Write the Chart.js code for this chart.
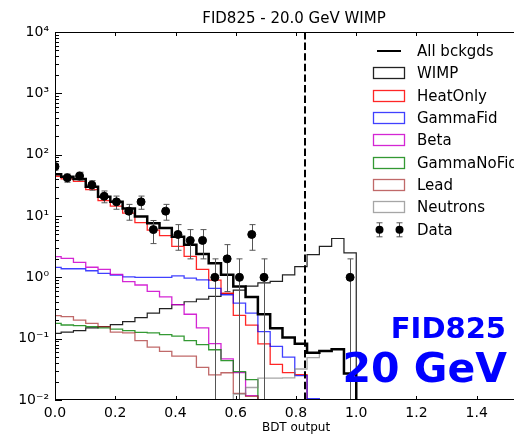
<!DOCTYPE html>
<html>
<head>
<meta charset="utf-8">
<script src="https://cdn.jsdelivr.net/npm/chart.js@4.4.0/dist/chart.umd.min.js"></script>
<style>
    html, body { margin: 0; padding: 0; overflow: hidden; background: #fff; }
    #wrap { width: 560px; height: 436px; }
</style>
</head>
<body>
<div id="wrap"><canvas id="bdtChart" width="560" height="436"></canvas></div>
<script>
// BDT output binning: 49 bins from -1 to 1, bin k centred on k * binWidth
const binWidth = 2 / 49;
const firstEdge = -1 / 49;
const cutValue = 0.83;

// histogram contents per bin (k = 0, 1, 2, ...)
const allBkg     = [48, 43.7, 40, 30, 20.6, 17, 13.3, 9.8, 7.6, 6.4, 4.6, 3.4, 2.4, 1.7, 1.1, 0.71, 0.48, 0.25, 0.148, 0.104, 0.083, 0.059, 0.063, 0.067, 0.027];
const wimp       = [0.122, 0.128, 0.135, 0.15, 0.157, 0.17, 0.19, 0.22, 0.26, 0.31, 0.36, 0.40, 0.44, 0.49, 0.54, 0.62, 0.72, 0.81, 0.86, 1.1, 1.5, 2.35, 3.2, 4.3, 2.5];
const heatOnly   = [44.5, 40.2, 36.6, 27, 17.8, 14.5, 11.1, 7.8, 5.9, 4.8, 3.2, 2.2, 1.35, 0.9, 0.55, 0.24, 0.166, 0.082, 0.038, 0.028, 0.026];
const gammaFid   = [1.45, 1.38, 1.38, 1.28, 1.16, 1.09, 1.02, 1.0, 1.0, 1.0, 1.06, 0.97, 0.91, 0.66, 0.52, 0.38, 0.26, 0.13, 0.075, 0.05, 0.025, 0.0105];
const beta       = [2.17, 2.04, 1.76, 1.46, 1.35, 1.12, 0.85, 0.75, 0.59, 0.48, 0.36, 0.25, 0.15, 0.083, 0.047, 0.028, 0.0118];
const gammaNoFid = [0.178, 0.167, 0.163, 0.157, 0.15, 0.143, 0.135, 0.127, 0.124, 0.116, 0.11, 0.093, 0.08, 0.066, 0.044, 0.029, 0.0215];
const lead       = [0.237, 0.228, 0.20, 0.178, 0.157, 0.128, 0.124, 0.093, 0.073, 0.062, 0.052, 0.052, 0.034, 0.0256, 0.0278, 0.0128, 0.0115];
const neutrons   = [0, 0, 0, 0, 0, 0, 0, 0, 0, 0, 0, 0, 0, 0, 0, 0.0125, 0.016, 0.0227, 0.0227, 0.023, 0.032, 0.049, 0.063, 0.067, 0.027];
const dataCounts = [64, 42, 45, 32, 21, 17, 12, 17, 6, 12, 5, 4, 4, 1, 2, 1, 5, 1, 0, 0, 0, 0, 0, 0, 1];

const xTicks = [0, 0.2, 0.4, 0.6, 0.8, 1.0, 1.2, 1.4, 1.6];
const yDecades = [-2, -1, 0, 1, 2, 3, 4];

const FONT = "'DejaVu Sans', sans-serif";
const floorVal = 1e-3; // empty bins fall below the axis

function stepPoints(vals) {
    const pts = [];
    vals.forEach((v, k) => {
        const lo = firstEdge + k * binWidth;
        const y = v > 0 ? v : floorVal;
        pts.push({ x: lo, y: y }, { x: lo + binWidth, y: y });
    });
    pts.push({ x: firstEdge + vals.length * binWidth, y: floorVal });
    return pts;
}

function histSet(label, vals, color, width, order) {
    return {
        type: 'line', label: label, data: stepPoints(vals),
        borderColor: color, borderWidth: width, pointRadius: 0,
        tension: 0, fill: false, order: order
    };
}

const dataPoints = [];
dataCounts.forEach((n, k) => {
    if (n > 0) dataPoints.push({ x: k * binWidth, y: n, err: Math.sqrt(n) });
});

const legendItems = [
    { label: 'All bckgds', kind: 'line', color: '#000' },
    { label: 'WIMP', kind: 'box', color: '#222' },
    { label: 'HeatOnly', kind: 'box', color: 'rgba(255,0,0,0.85)' },
    { label: 'GammaFid', kind: 'box', color: 'rgba(0,0,255,0.75)' },
    { label: 'Beta', kind: 'box', color: 'rgba(204,0,204,0.85)' },
    { label: 'GammaNoFid', kind: 'box', color: 'rgba(0,128,0,0.8)' },
    { label: 'Lead', kind: 'box', color: 'rgba(165,42,42,0.7)' },
    { label: 'Neutrons', kind: 'box', color: 'rgba(128,128,128,0.7)' },
    { label: 'Data', kind: 'data', color: '#000' }
];

const decor = {
    id: 'decor',
    beforeDatasetDraw(chart, args) {
        if (args.meta.type !== 'scatter') return;
        const ctx = chart.ctx, a = chart.chartArea;
        const xs = chart.scales.x, ys = chart.scales.y;
        ctx.save();
        ctx.beginPath();
        ctx.rect(a.left, a.top, a.right - a.left, a.bottom - a.top);
        ctx.clip();
        ctx.strokeStyle = '#555';
        ctx.lineWidth = 1;
        dataPoints.forEach(p => {
            const px = Math.round(xs.getPixelForValue(p.x)) + 0.5;
            const yHi = ys.getPixelForValue(p.y + p.err);
            const lowVal = p.y - p.err;
            const yLo = lowVal > 0 ? ys.getPixelForValue(lowVal) : a.bottom + 2;
            ctx.beginPath();
            ctx.moveTo(px, yHi); ctx.lineTo(px, yLo);
            ctx.moveTo(px - 3, yHi); ctx.lineTo(px + 3, yHi);
            if (lowVal > 0) { ctx.moveTo(px - 3, yLo); ctx.lineTo(px + 3, yLo); }
            ctx.stroke();
        });
        ctx.restore();
    },
    afterDatasetsDraw(chart) {
        const ctx = chart.ctx, a = chart.chartArea;
        const xs = chart.scales.x, ys = chart.scales.y;
        // cut line
        const cx = Math.round(xs.getPixelForValue(cutValue));
        ctx.save();
        ctx.strokeStyle = '#000';
        ctx.lineWidth = 2;
        ctx.setLineDash([7.4, 3.2]);
        ctx.beginPath();
        ctx.moveTo(cx, a.top); ctx.lineTo(cx, a.bottom);
        ctx.stroke();
        ctx.restore();

        // frame and inward ticks
        ctx.save();
        ctx.strokeStyle = '#000';
        ctx.lineWidth = 1;
        ctx.beginPath();
        ctx.moveTo(a.left + 0.5, a.top + 0.5); ctx.lineTo(a.right, a.top + 0.5);
        ctx.moveTo(a.left + 0.5, a.top); ctx.lineTo(a.left + 0.5, a.bottom);
        ctx.moveTo(a.left, a.bottom - 0.5); ctx.lineTo(a.right, a.bottom - 0.5);
        xTicks.forEach(v => {
            const px = Math.round(xs.getPixelForValue(v)) + 0.5;
            ctx.moveTo(px, a.bottom); ctx.lineTo(px, a.bottom - 4);
            ctx.moveTo(px, a.top); ctx.lineTo(px, a.top + 4);
        });
        yDecades.forEach(e => {
            for (let m = 1; m <= 9; m++) {
                if (e === 4 && m > 1) break;
                const py = Math.round(ys.getPixelForValue(m * Math.pow(10, e))) + 0.5;
                ctx.moveTo(a.left, py); ctx.lineTo(a.left + (m === 1 ? 7 : 4), py);
            }
        });
        ctx.stroke();
        ctx.restore();
    },
    afterDraw(chart) {
        const ctx = chart.ctx;
        ctx.save();
        ctx.fillStyle = '#000';
        ctx.textBaseline = 'middle';
        ctx.textAlign = 'center';
        ctx.font = '15px ' + FONT;
        ctx.fillText('FID825 - 20.0 GeV WIMP', 294, 19);
        ctx.font = '12px ' + FONT;
        ctx.fillText('BDT output', 296, 428);

        // legend
        ctx.textAlign = 'left';
        ctx.font = '15px ' + FONT;
        legendItems.forEach((it, i) => {
            const y = 51 + i * 22.35;
            if (it.kind === 'line') {
                ctx.strokeStyle = it.color; ctx.lineWidth = 2;
                ctx.beginPath(); ctx.moveTo(377, y); ctx.lineTo(401, y); ctx.stroke();
            } else if (it.kind === 'box') {
                ctx.strokeStyle = it.color; ctx.lineWidth = 1.3;
                ctx.strokeRect(373.5, Math.round(y) - 5.5, 31, 11);
            } else {
                [379, 399].forEach(mx => {
                    ctx.strokeStyle = '#555'; ctx.lineWidth = 1;
                    ctx.beginPath();
                    ctx.moveTo(mx + 0.5, y - 7); ctx.lineTo(mx + 0.5, y + 7);
                    ctx.moveTo(mx - 2.5, y - 7); ctx.lineTo(mx + 3.5, y - 7);
                    ctx.moveTo(mx - 2.5, y + 7); ctx.lineTo(mx + 3.5, y + 7);
                    ctx.stroke();
                    ctx.fillStyle = '#000';
                    ctx.beginPath(); ctx.arc(mx + 0.5, y, 4, 0, Math.PI * 2); ctx.fill();
                });
            }
            ctx.fillStyle = '#000';
            ctx.fillText(it.label, 417, y + 1);
        });

        // annotation
        ctx.fillStyle = '#0000ff';
        ctx.textAlign = 'right';
        ctx.textBaseline = 'alphabetic';
        ctx.font = 'bold 29px ' + FONT;
        ctx.fillText('FID825', 506, 338);
        ctx.font = 'bold 41px ' + FONT;
        ctx.fillText('20 GeV', 507, 382);
        ctx.restore();
    }
};

const sup = { '-': '\u207B', '0': '\u2070', '1': '\u00B9', '2': '\u00B2', '3': '\u00B3', '4': '\u2074' };

const ctx = document.getElementById('bdtChart').getContext('2d');
const bdtChart = new Chart(ctx, {
    data: {
        datasets: [
            {
                type: 'scatter', label: 'Data', data: dataPoints,
                backgroundColor: '#000', borderColor: '#000',
                pointRadius: 4, pointHoverRadius: 4, order: 0
            },
            histSet('All bckgds', allBkg, '#000', 2.5, 1),
            histSet('WIMP', wimp, '#222', 1.2, 9),
            histSet('HeatOnly', heatOnly, 'rgba(255,0,0,0.85)', 1.3, 8),
            histSet('GammaFid', gammaFid, 'rgba(0,0,255,0.75)', 1.3, 7),
            histSet('Beta', beta, 'rgba(204,0,204,0.85)', 1.3, 6),
            histSet('GammaNoFid', gammaNoFid, 'rgba(0,128,0,0.8)', 1.3, 5),
            histSet('Lead', lead, 'rgba(165,42,42,0.7)', 1.3, 4),
            histSet('Neutrons', neutrons, 'rgba(128,128,128,0.7)', 1.3, 3)
        ]
    },
    options: {
        responsive: false,
        animation: false,
        devicePixelRatio: 1,
        layout: { padding: { top: 32, right: 23, left: 0, bottom: 0 } },
        plugins: {
            legend: { display: false },
            title: { display: false },
            tooltip: { enabled: false }
        },
        scales: {
            x: {
                type: 'linear', min: 0, max: 1.6,
                grid: { display: false, drawTicks: false },
                border: { display: false },
                ticks: {
                    stepSize: 0.2, padding: 5, color: '#000',
                    font: { family: FONT, size: 14 },
                    callback: v => v.toFixed(1)
                },
                afterFit: s => { s.height = 36; }
            },
            y: {
                type: 'logarithmic', min: 0.01, max: 10000,
                grid: { display: false, drawTicks: false },
                border: { display: false },
                ticks: {
                    autoSkip: false, padding: 6, color: '#000',
                    font: { family: FONT, size: 14 },
                    callback: v => {
                        const e = Math.log10(v);
                        if (Math.abs(e - Math.round(e)) > 1e-9) return '';
                        return '10' + String(Math.round(e)).split('').map(c => sup[c]).join('');
                    }
                },
                afterFit: s => { s.width = 55; }
            }
        }
    },
    plugins: [decor]
});
</script>
</body>
</html>
